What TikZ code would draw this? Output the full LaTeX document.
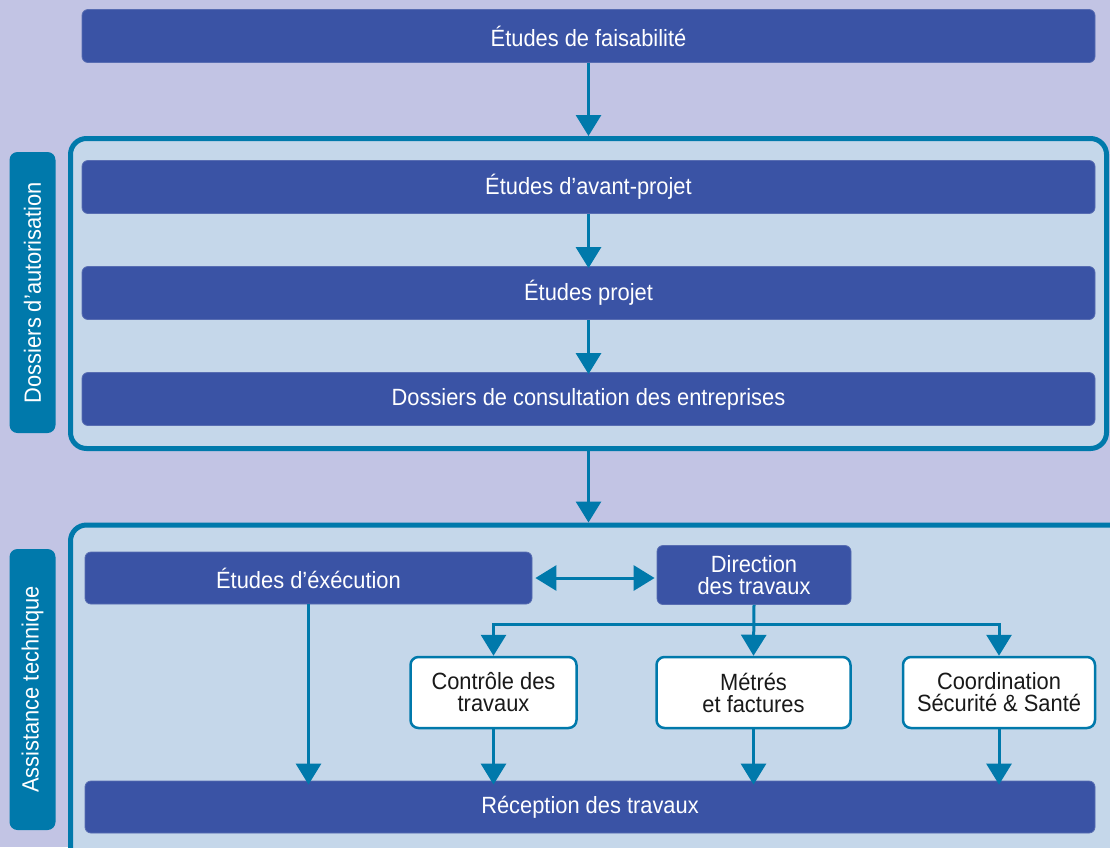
\documentclass[tikz,border=0pt]{standalone}
\usepackage{fontspec}
\setmainfont[FakeStretch=0.93]{Liberation Sans}
\usetikzlibrary{arrows.meta,positioning}
\definecolor{bgviolet}{HTML}{C2C4E4}
\definecolor{panelblue}{HTML}{C5D7EA}
\definecolor{phasenavy}{HTML}{3A53A5}
\definecolor{flowteal}{HTML}{0079AB}

\tikzset{
  phase/.style={fill=phasenavy,draw=phasenavy!85!white,line width=0.8pt,rounded corners=6pt,
    text=white,align=center,inner sep=0pt,font=\fontsize{23.5}{22}\selectfont},
  task/.style={fill=white,draw=flowteal,line width=2.5pt,rounded corners=8pt,
    text=black!90,align=center,inner sep=0pt,font=\fontsize{23.5}{22}\selectfont},
  frame/.style={fill=panelblue,draw=flowteal,line width=5pt,rounded corners=16pt,inner sep=0pt},
  tagbox/.style={fill=flowteal,rounded corners=8pt,text=white,rotate=90,inner sep=0pt,
    minimum width=281pt,minimum height=46pt,font=\fontsize{23.5}{22}\selectfont},
  flow/.style={draw=flowteal,line width=3pt,-{Triangle[width=25pt,length=21pt]}},
  bothflow/.style={flow,{Triangle[width=25pt,length=21pt]}-{Triangle[width=25pt,length=21pt]}},
  wire/.style={draw=flowteal,line width=3pt}
}

\begin{document}
\begin{tikzpicture}[x=1pt,y=-1pt]
        \useasboundingbox[fill=bgviolet] (0,0) rectangle (1110,847);
        % panels
        \node[frame,minimum width=1036pt,minimum height=310pt] (pan1) at (588.5,293.5) {};
        \node[frame,minimum width=1070pt,minimum height=340pt] (pan2) at (605.5,695) {};
        % side labels
        \node[tagbox] (tag1) at (32.5,292.5) {Dossiers d’autorisation};
        \node[tagbox] (tag2) at (32.5,689.5) {Assistance technique};
        % studies
        \node[phase,minimum width=1013pt,minimum height=53pt] (feas) at (588.5,36) {Études de faisabilité};
        \node[phase,minimum width=1013pt,minimum height=53pt] (avant) at (588.5,187) {Études d’avant-projet};
        \node[phase,minimum width=1013pt,minimum height=53pt] (projet) at (588.5,293) {Études projet};
        \node[phase,minimum width=1013pt,minimum height=53pt] (dce) at (588.5,399) {Dossiers de consultation des entreprises};
        % works
        \node[phase,minimum width=447pt,minimum height=52pt] (exec) at (308.5,578) {Études d’éxécution};
        \node[phase,minimum width=194pt,minimum height=59pt] (dir) at (754,575) {Direction\\des travaux};
        \node[task,minimum width=166pt,minimum height=71pt] (ctrl) at (493.5,692.5) {Contrôle des\\travaux};
        \node[task,minimum width=194pt,minimum height=71pt] (metres) at (753.5,692.5) {Métrés\\et factures};
        \node[task,minimum width=192pt,minimum height=71pt] (coord) at (999,692.5) {Coordination\\Sécurité \& Santé};
        \node[phase,minimum width=1010pt,minimum height=52pt] (recep) at (590,807) {Réception des travaux};
        % arrows
        \draw[flow] (feas.south) -- (feas.south |- pan1.north);
        \draw[flow] (avant.south) -- ([yshift=-2pt]projet.north);
        \draw[flow] (projet.south) -- ([yshift=-2pt]dce.north);
        \draw[flow] (pan1.south) -- (pan1.south |- pan2.north);
        \draw[bothflow] ([xshift=3pt]exec.east) -- ([xshift=-2pt]dir.west |- exec.east);
        \coordinate[below=20pt of dir.south] (bus);
        \draw[flow] (dir.south) -- (metres.north);
        \draw[flow] (bus) -| (ctrl.north);
        \draw[flow] (bus) -| (coord.north);
        \draw[flow] (exec.south) -- ([yshift=-4pt]exec.south |- recep.north);
        \draw[flow] (ctrl.south) -- ([yshift=-4pt]ctrl.south |- recep.north);
        \draw[flow] (metres.south) -- ([yshift=-4pt]metres.south |- recep.north);
        \draw[flow] (coord.south) -- ([yshift=-4pt]coord.south |- recep.north);
    \end{tikzpicture}
\end{document}
